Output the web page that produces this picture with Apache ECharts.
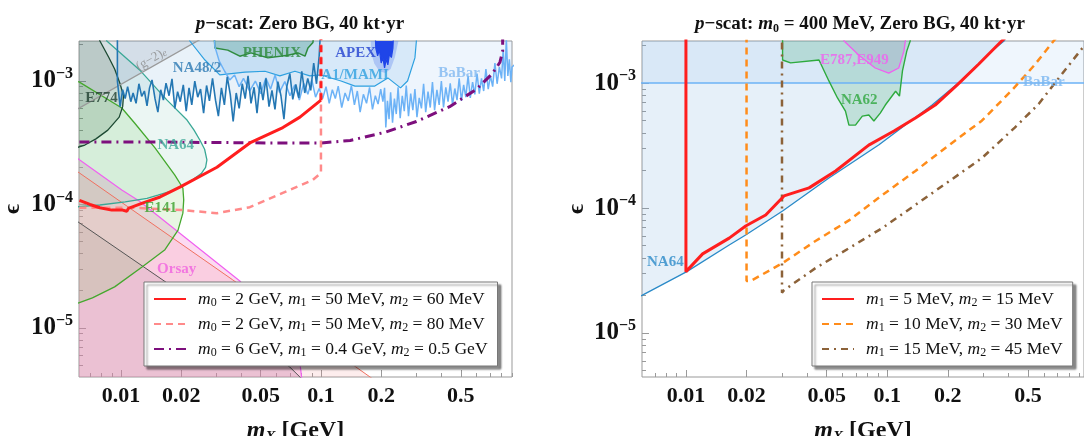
<!DOCTYPE html>
<html><head><meta charset="utf-8">
<script src="https://cdn.jsdelivr.net/npm/echarts/dist/echarts.min.js"></script>
<style>html,body{margin:0;padding:0;background:#fff}#c{width:1084px;height:436px}</style>
</head><body><div id="c"></div>
<script>
// ---------- ticks ----------
const X_MAJOR = [0.01, 0.02, 0.05, 0.1, 0.2, 0.5];
const X_MAJOR_LABELS = ['0.01', '0.02', '0.05', '0.1', '0.2', '0.5'];
const X_MINOR = [0.007, 0.008, 0.009, 0.03, 0.04, 0.06, 0.07, 0.08, 0.09, 0.3, 0.4, 0.6, 0.7, 0.8, 0.9];
const Y_MAJOR = [1e-5, 1e-4, 1e-3];
const Y_MAJOR_EXP = ['−5', '−4', '−3'];
const Y_MINOR = [5e-6, 6e-6, 7e-6, 8e-6, 9e-6, 2e-5, 3e-5, 4e-5, 5e-5, 6e-5, 7e-5, 8e-5, 9e-5,
  2e-4, 3e-4, 4e-4, 5e-4, 6e-4, 7e-4, 8e-4, 9e-4, 2e-3];

// ---------- left panel: exclusion regions [m_X (GeV), epsilon] ----------
const L_G2 = [[0.004, 4.04e-4], [0.03, 2.58e-3], [0.004, 2.58e-3]];
const L_E774 = [[0.0074, 3e-3], [0.00785, 2.11e-3], [0.0087, 1.55e-3], [0.0093, 1.25e-3], [0.0099, 9.5e-4], [0.0103, 7.6e-4],
  [0.0102, 6.2e-4], [0.0098, 5.1e-4], [0.0086, 4.0e-4], [0.0075, 3.4e-4], [0.0066, 3.03e-4], [0.0055, 2.75e-4], [0.004, 2.5e-4], [0.004, 3e-3]];
const L_NA64 = [[0.0079, 3e-3], [0.0085, 2.11e-3], [0.0124, 1.23e-3], [0.017, 7.0e-4], [0.0214, 4.83e-4], [0.0232, 4.0e-4], [0.0248, 3.33e-4],
  [0.0262, 2.8e-4], [0.0269, 2.3e-4], [0.0265, 2.0e-4], [0.0252, 1.78e-4], [0.023, 1.6e-4], [0.0205, 1.42e-4], [0.018, 1.29e-4],
  [0.0153, 1.19e-4], [0.0135, 1.12e-4], [0.0105, 1.05e-4], [0.00785, 9.9e-5], [0.0062, 9.6e-5], [0.004, 9.2e-5], [0.004, 3e-3]];
const L_E141 = [[0.004, 1.25e-3], [0.0062, 9.8e-4], [0.0101, 6.05e-4], [0.0117, 4.57e-4], [0.0148, 2.87e-4], [0.0186, 1.73e-4],
  [0.0204, 1.36e-4], [0.0206, 1.09e-4], [0.0204, 8.5e-5], [0.0193, 6.2e-5], [0.0166, 4.3e-5], [0.0127, 3.1e-5], [0.0093, 2.15e-5],
  [0.0072, 1.75e-5], [0.0062, 1.6e-5], [0.004, 1.35e-5]];
const L_ORSAY = [[0.004, 3.9e-4], [0.0062, 2.3e-4], [0.0101, 1.31e-4], [0.0124, 1.06e-4], [0.0393, 2.4e-5], [0.0785, 5.2e-6],
  [0.08, 4e-6], [0.081, 1e-6], [0.004, 1e-6]];
const L_SALMON = [[0.004, 2.9e-4], [0.0062, 1.8e-4], [0.0362, 2.45e-5], [0.176, 4e-6], [0.25, 2.7e-6], [0.004, 1e-6]];
const L_GRAY = [[0.004, 1.15e-4], [0.0062, 7.1e-5], [0.070, 4.8e-6], [0.0785, 4e-6], [0.1, 2.5e-6], [0.004, 1e-6]];
const L_NA48 = [[0.0096, 3e-3], [0.0096, 1.0e-3], [0.0099, 6.2e-4], [0.0102, 8.5e-4], [0.0105, 7.2e-4], [0.0108, 9.0e-4],
  [0.0112, 6.8e-4], [0.0115, 8.0e-4], [0.0119, 6.6e-4], [0.0123, 9.5e-4], [0.0127, 7.5e-4], [0.0131, 8.3e-4], [0.0135, 6.3e-4],
  [0.0139, 8.8e-4], [0.0143, 1.02e-3], [0.0148, 7.2e-4], [0.0153, 5.6e-4], [0.0158, 8.5e-4], [0.0163, 7.0e-4], [0.0168, 9.6e-4],
  [0.0174, 7.6e-4], [0.0180, 1.04e-3], [0.0186, 6.0e-4], [0.0192, 8.2e-4], [0.0198, 6.8e-4], [0.0205, 9.3e-4], [0.0212, 5.7e-4],
  [0.0219, 8.8e-4], [0.0226, 6.4e-4], [0.0234, 1.0e-3], [0.0242, 7.4e-4], [0.0250, 8.6e-4], [0.0259, 5.5e-4], [0.0268, 9.2e-4],
  [0.0277, 6.9e-4], [0.0287, 1.05e-3], [0.0297, 7.0e-4], [0.0307, 5.2e-4], [0.0318, 8.8e-4], [0.0329, 6.4e-4], [0.0340, 1.08e-3],
  [0.0352, 7.8e-4], [0.0364, 4.7e-4], [0.0377, 8.0e-4], [0.0390, 6.0e-4], [0.0404, 9.5e-4], [0.0418, 7.2e-4], [0.0432, 1.1e-3],
  [0.0447, 6.6e-4], [0.0463, 8.9e-4], [0.0479, 5.5e-4], [0.0496, 9.8e-4], [0.0513, 7.0e-4], [0.0531, 1.05e-3], [0.0550, 6.2e-4],
  [0.0569, 8.4e-4], [0.0589, 5.9e-4], [0.0609, 9.9e-4], [0.0631, 7.6e-4], [0.0653, 4.9e-4], [0.0675, 9.0e-4], [0.0699, 1.15e-3],
  [0.0723, 7.1e-4], [0.0749, 9.4e-4], [0.0775, 7.3e-4], [0.0802, 1.2e-3], [0.0830, 8.0e-4], [0.0859, 1.05e-3], [0.0889, 8.4e-4],
  [0.0920, 1.4e-3], [0.0950, 9.5e-4], [0.0980, 1.6e-3], [0.1000, 3e-3]];
const L_BABAR = [[0.029, 3e-3], [0.0295, 1.9e-3], [0.031, 1.45e-3], [0.033, 1.2e-3], [0.035, 1.02e-3], [0.037, 1.12e-3], [0.039, 9.0e-4],
  [0.041, 1.05e-3], [0.044, 8.3e-4], [0.047, 1.0e-3], [0.050, 7.9e-4], [0.053, 1.06e-3], [0.056, 8.6e-4], [0.059, 1.12e-3],
  [0.062, 8.1e-4], [0.066, 9.9e-4], [0.070, 7.6e-4], [0.074, 9.3e-4], [0.078, 7.0e-4], [0.082, 9.6e-4], [0.086, 7.8e-4],
  [0.090, 1.02e-3], [0.094, 7.4e-4], [0.098, 8.7e-4], [0.102, 7.2e-4], [0.106, 9.0e-4], [0.110, 6.6e-4], [0.114, 8.5e-4],
  [0.118, 7.2e-4], [0.122, 9.1e-4], [0.127, 6.1e-4], [0.132, 8.0e-4], [0.137, 6.9e-4], [0.142, 9.2e-4], [0.147, 6.4e-4],
  [0.152, 8.3e-4], [0.157, 5.6e-4], [0.163, 7.8e-4], [0.169, 6.6e-4], [0.175, 8.9e-4], [0.181, 5.9e-4], [0.187, 7.6e-4],
  [0.193, 6.5e-4], [0.199, 8.6e-4], [0.204, 6.8e-4], [0.208, 8.8e-4], [0.211, 4.2e-4], [0.215, 6.9e-4], [0.219, 4.9e-4],
  [0.223, 8.1e-4], [0.228, 4.6e-4], [0.233, 7.2e-4], [0.238, 5.4e-4], [0.243, 8.9e-4], [0.249, 5.0e-4], [0.255, 7.6e-4],
  [0.261, 5.7e-4], [0.267, 9.2e-4], [0.274, 5.2e-4], [0.281, 7.9e-4], [0.288, 5.8e-4], [0.295, 8.6e-4], [0.302, 5.1e-4],
  [0.310, 7.3e-4], [0.318, 6.0e-4], [0.326, 9.5e-4], [0.334, 5.6e-4], [0.343, 8.2e-4], [0.352, 6.1e-4], [0.361, 9.8e-4],
  [0.370, 5.8e-4], [0.380, 8.5e-4], [0.390, 6.4e-4], [0.400, 1.0e-3], [0.410, 6.1e-4], [0.421, 8.9e-4], [0.432, 6.8e-4],
  [0.443, 9.6e-4], [0.455, 6.4e-4], [0.467, 8.7e-4], [0.479, 7.0e-4], [0.491, 1.05e-3], [0.504, 6.9e-4], [0.517, 9.3e-4],
  [0.530, 7.4e-4], [0.544, 1.1e-3], [0.558, 7.3e-4], [0.573, 9.8e-4], [0.588, 7.8e-4], [0.603, 1.15e-3], [0.619, 7.9e-4],
  [0.635, 1.05e-3], [0.651, 8.3e-4], [0.668, 1.25e-3], [0.686, 8.6e-4], [0.704, 1.1e-3], [0.722, 9.0e-4], [0.741, 1.4e-3],
  [0.760, 9.5e-4], [0.780, 1.3e-3], [0.800, 1.05e-3], [0.815, 1.8e-3], [0.830, 1.0e-3], [0.845, 2.2e-3], [0.860, 1.1e-3],
  [0.875, 1.5e-3], [0.890, 9.8e-4], [0.902, 1.3e-3], [0.95, 1.4e-3], [0.95, 3e-3]];
const L_A1 = [[0.021, 3e-3], [0.0221, 2.11e-3], [0.0263, 1.48e-3], [0.0312, 1.12e-3], [0.0417, 1.18e-3], [0.0525, 1.2e-3],
  [0.0623, 1.1e-3], [0.0741, 1.2e-3], [0.088, 1.1e-3], [0.10, 1.12e-3], [0.126, 1.0e-3], [0.148, 9.1e-4], [0.186, 9.1e-4],
  [0.216, 1.06e-3], [0.25, 8.8e-4], [0.271, 1.0e-3], [0.295, 1.54e-3], [0.30, 2.11e-3], [0.305, 3e-3]];
const L_APEX_HALO = [[0.176, 3e-3], [0.178, 1.7e-3], [0.185, 1.38e-3], [0.196, 1.2e-3], [0.21, 1.16e-3], [0.223, 1.25e-3],
  [0.234, 1.55e-3], [0.244, 2.11e-3], [0.246, 3e-3]];
const L_APEX = [[0.186, 3e-3], [0.188, 1.85e-3], [0.192, 1.6e-3], [0.196, 1.78e-3], [0.2, 1.4e-3], [0.204, 1.55e-3],
  [0.208, 1.28e-3], [0.212, 1.5e-3], [0.216, 1.35e-3], [0.22, 1.65e-3], [0.225, 1.55e-3], [0.229, 1.85e-3], [0.232, 3e-3]];
const L_PHENIX = [[0.029, 3e-3], [0.0295, 1.85e-3], [0.0342, 1.78e-3], [0.0393, 1.59e-3], [0.0447, 1.69e-3], [0.0543, 1.54e-3],
  [0.0683, 1.62e-3], [0.0767, 1.69e-3], [0.0832, 1.59e-3], [0.0861, 1.85e-3], [0.0912, 2.05e-3], [0.093, 3e-3]];

// ---------- left panel: projected sensitivities ----------
const NAME_L1 = 'm0 = 2 GeV, m1 = 50 MeV, m2 = 60 MeV';
const NAME_L2 = 'm0 = 2 GeV, m1 = 50 MeV, m2 = 80 MeV';
const NAME_L3 = 'm0 = 6 GeV, m1 = 0.4 GeV, m2 = 0.5 GeV';
const L_RED = [[0.0062, 1.08e-4], [0.0070, 1.0e-4], [0.00785, 9.4e-5], [0.009, 9.0e-5], [0.0102, 9.0e-5], [0.0107, 8.8e-5],
  [0.0109, 9.3e-5], [0.0129, 1.03e-4], [0.0157, 1.15e-4], [0.0197, 1.38e-4], [0.0302, 2.0e-4], [0.0441, 3.15e-4],
  [0.0645, 4.2e-4], [0.0785, 5.1e-4], [0.1, 7.0e-4]];
const L_PINK = [[0.0062, 9.4e-5], [0.0115, 9.4e-5], [0.0204, 9.0e-5], [0.0302, 8.5e-5], [0.0441, 9.5e-5], [0.0645, 1.24e-4],
  [0.091, 1.58e-4], [0.1, 1.8e-4], [0.1, 3e-3]];
const L_PURPLE = [[0.0062, 3.2e-4], [0.017, 3.2e-4], [0.0536, 3.15e-4], [0.1, 3.15e-4], [0.14, 3.3e-4], [0.21, 3.85e-4],
  [0.3, 4.7e-4], [0.44, 6.2e-4], [0.6, 8.6e-4], [0.72, 1.15e-3], [0.785, 1.42e-3], [0.81, 1.75e-3], [0.81, 3e-3]];

// ---------- right panel ----------
const R_BABAR = [[0.004, 1e-3], [1.2, 1e-3], [1.2, 3e-3], [0.004, 3e-3]];
const R_NA64 = [[0.004, 1.5e-5], [0.00605, 2.0e-5], [0.0101, 3.1e-5], [0.0164, 5.06e-5], [0.0198, 6.08e-5], [0.0302, 9.46e-5],
  [0.0513, 1.74e-4], [0.0906, 3.19e-4], [0.167, 6.67e-4], [0.235, 1.06e-3], [0.33, 1.8e-3], [0.38, 2.17e-3], [0.45, 3e-3], [0.004, 3e-3]];
const R_NA62 = [[0.0302, 3e-3], [0.0302, 1.53e-3], [0.0331, 1.45e-3], [0.0458, 1.53e-3], [0.0513, 1.04e-3], [0.0566, 7.6e-4],
  [0.062, 5.97e-4], [0.0645, 4.61e-4], [0.0695, 4.61e-4], [0.0752, 5.44e-4], [0.081, 5.55e-4], [0.0858, 4.97e-4], [0.0923, 5.75e-4],
  [0.0978, 6.67e-4], [0.11, 8.6e-4], [0.115, 7.87e-4], [0.119, 1.25e-3], [0.125, 1.8e-3], [0.13, 2.17e-3], [0.131, 3e-3]];
const R_E787 = [[0.059, 3e-3], [0.061, 2.17e-3], [0.0723, 1.67e-3], [0.0871, 1.32e-3], [0.1017, 1.2e-3], [0.114, 1.32e-3],
  [0.121, 1.8e-3], [0.123, 2.17e-3], [0.124, 3e-3]];
const NAME_R1 = 'm1 = 5 MeV, m2 = 15 MeV';
const NAME_R2 = 'm1 = 10 MeV, m2 = 30 MeV';
const NAME_R3 = 'm1 = 15 MeV, m2 = 45 MeV';
const R_RED = [[0.01, 3e-3], [0.01, 3.1e-5], [0.0121, 4.3e-5], [0.0164, 5.75e-5], [0.0198, 7.18e-5], [0.0249, 8.79e-5],
  [0.0307, 1.25e-4], [0.0409, 1.45e-4], [0.0554, 1.98e-4], [0.0809, 3.19e-4], [0.108, 4.13e-4], [0.138, 5.25e-4],
  [0.173, 6.67e-4], [0.222, 9.64e-4], [0.285, 1.42e-3], [0.37, 2.17e-3], [0.42, 2.6e-3]];
const R_ORANGE = [[0.02, 3e-3], [0.02, 2.61e-5], [0.021, 2.61e-5], [0.0302, 3.63e-5], [0.044, 5.45e-5], [0.0648, 8.0e-5],
  [0.0945, 1.27e-4], [0.138, 1.98e-4], [0.203, 3.19e-4], [0.295, 5.0e-4], [0.42, 8.9e-4], [0.54, 1.4e-3], [0.67, 2.17e-3], [0.75, 2.7e-3]];
const R_BROWN = [[0.03, 3e-3], [0.03, 2.1e-5], [0.0307, 2.2e-5], [0.044, 3.31e-5], [0.0648, 4.79e-5], [0.0945, 6.92e-5],
  [0.138, 1.06e-4], [0.203, 1.64e-4], [0.295, 2.51e-4], [0.43, 4.4e-4], [0.565, 6.8e-4], [0.70, 1.06e-3], [0.93, 1.9e-3], [1.1, 2.6e-3]];

// ---------- annotations ----------
const L_TEXTS = [
  { text: '(g−2){e|e}', x: 0.0142, y: 1.5e-3, color: '#8a8a8a', rotate: 30, weight: 'normal', size: 13 },
  { text: 'NA48/2', x: 0.024, y: 1.27e-3, color: '#2a78b3' },
  { text: 'PHENIX', x: 0.0568, y: 1.69e-3, color: '#2e8b3e' },
  { text: 'APEX', x: 0.149, y: 1.69e-3, color: '#2040d0' },
  { text: 'A1/MAMI', x: 0.148, y: 1.12e-3, color: '#30a0e0' },
  { text: 'BaBar', x: 0.49, y: 1.16e-3, color: '#80b8f0' },
  { text: 'E774', x: 0.0080, y: 7.3e-4, color: '#1e3d2e' },
  { text: 'NA64', x: 0.0188, y: 3.03e-4, color: '#3aa896' },
  { text: 'E141', x: 0.0158, y: 9.4e-5, color: '#3aa02a' },
  { text: 'Orsay', x: 0.019, y: 3.0e-5, color: '#f060e0' }
];
const R_TEXTS = [
  { text: 'E787,E949', x: 0.0686, y: 1.53e-3, color: '#f060f0' },
  { text: 'NA62', x: 0.0726, y: 7.3e-4, color: '#2ea83e' },
  { text: 'BaBar', x: 0.60, y: 1.02e-3, color: '#7ab6f0' },
  { text: 'NA64', x: 0.0079, y: 3.7e-5, color: '#2a8ac8' }
];

// ---------- building ----------
const SERIF = "'Liberation Serif','DejaVu Serif',serif";
const L = Math.log10;
const lg = arr => arr.map(p => [L(p[0]), L(p[1])]);

function polySeries(pts, fill, xi, yi) {
  const lp = lg(pts);
  return {
    type: 'custom', xAxisIndex: xi, yAxisIndex: yi, clip: true, silent: true, z: 1, data: lp,
    renderItem: (params, api) => {
      if (params.dataIndex !== 0) return null;
      return { type: 'polygon', shape: { points: lp.map(p => api.coord(p)) }, style: { fill: fill } };
    }
  };
}
function lineSeries(pts, color, width, type, xi, yi, z, name) {
  const s = {
    type: 'line', xAxisIndex: xi, yAxisIndex: yi, data: lg(pts), showSymbol: false, symbol: 'none', clip: true,
    silent: true, z: z || 2, lineStyle: { color: color, width: width, type: type || 'solid', cap: 'butt' },
    itemStyle: { color: color }
  };
  if (name) s.name = name;
  return s;
}
const LABEL_RICH = { e: { fontStyle: 'italic', fontSize: 10, verticalAlign: 'bottom', lineHeight: 10, color: '#8a8a8a', fontFamily: SERIF } };
function labelSeries(items, xi, yi) {
  return {
    type: 'scatter', xAxisIndex: xi, yAxisIndex: yi, symbolSize: 1, silent: true, z: 6,
    itemStyle: { color: 'rgba(0,0,0,0)' },
    data: items.map(it => ({
      value: [L(it.x), L(it.y)], name: it.text,
      label: { show: true, position: 'inside', formatter: it.text, color: it.color, rotate: it.rotate || 0,
        fontFamily: SERIF, fontWeight: it.weight || 'bold', fontSize: it.size || 15, rich: LABEL_RICH }
    }))
  };
}
const xFmt = v => { const i = X_MAJOR.findIndex(t => Math.abs(L(t) - v) < 1e-6); return i < 0 ? '' : X_MAJOR_LABELS[i]; };
const yFmt = v => { const i = Y_MAJOR.findIndex(t => Math.abs(L(t) - v) < 1e-6); return i < 0 ? '' : '{b|10}{p|' + Y_MAJOR_EXP[i] + '}'; };
const TICK_COLOR = '#9a9a9a';
function xAxes(grid, min, max) {
  return [{
    type: 'value', gridIndex: grid, position: 'bottom', min: L(min), max: L(max),
    axisLine: { show: false }, splitLine: { show: false },
    axisTick: { show: true, inside: true, length: 7, customValues: X_MAJOR.map(L), lineStyle: { color: TICK_COLOR } },
    axisLabel: { customValues: X_MAJOR.map(L), formatter: xFmt, fontFamily: SERIF, fontWeight: 'bold', fontSize: 22, color: '#111', margin: 8 },
    name: '{i|m}{s|X}{b| [GeV]}', nameLocation: 'middle', nameGap: 40,
    nameTextStyle: { rich: {
      i: { fontFamily: SERIF, fontStyle: 'italic', fontWeight: 'bold', fontSize: 24, color: '#111', lineHeight: 28 },
      s: { fontFamily: SERIF, fontStyle: 'italic', fontWeight: 'bold', fontSize: 15, color: '#111', verticalAlign: 'bottom', lineHeight: 18 },
      b: { fontFamily: SERIF, fontWeight: 'bold', fontSize: 24, color: '#111', lineHeight: 28 } } }
  }, {
    type: 'value', gridIndex: grid, position: 'bottom', min: L(min), max: L(max),
    axisLine: { show: false }, splitLine: { show: false }, axisLabel: { show: false },
    axisTick: { show: true, inside: true, length: 4, customValues: X_MINOR.map(L), lineStyle: { color: TICK_COLOR } }
  }];
}
function yAxes(grid, min, max, gap) {
  return [{
    type: 'value', gridIndex: grid, position: 'left', min: L(min), max: L(max),
    axisLine: { show: false }, splitLine: { show: false },
    axisTick: { show: true, inside: true, length: 7, customValues: Y_MAJOR.map(L), lineStyle: { color: TICK_COLOR } },
    axisLabel: { customValues: Y_MAJOR.map(L), formatter: yFmt, margin: 6, rich: {
      b: { fontFamily: SERIF, fontWeight: 'bold', fontSize: 25, color: '#111', lineHeight: 30 },
      p: { fontFamily: SERIF, fontWeight: 'bold', fontSize: 16, color: '#111', verticalAlign: 'top', lineHeight: 16 } } },
    name: 'ϵ', nameLocation: 'middle', nameGap: gap, nameRotate: 90,
    nameTextStyle: { fontFamily: SERIF, fontWeight: 'bold', fontSize: 24, color: '#111' }
  }, {
    type: 'value', gridIndex: grid, position: 'left', min: L(min), max: L(max),
    axisLine: { show: false }, splitLine: { show: false }, axisLabel: { show: false },
    axisTick: { show: true, inside: true, length: 4, customValues: Y_MINOR.map(L), lineStyle: { color: TICK_COLOR } }
  }];
}
const richify = s => s.replace(/m(\d)/g, '{i|m}{s|$1}');
const LEGEND_RICH = {
  i: { fontFamily: SERIF, fontStyle: 'italic', fontSize: 17.5, color: '#111', lineHeight: 20 },
  s: { fontFamily: SERIF, fontSize: 12, color: '#111', verticalAlign: 'bottom', lineHeight: 13 }
};
function legendBox(names, left, top) {
  return {
    data: names, orient: 'vertical', left: left, top: top, itemWidth: 32, itemHeight: 12, itemGap: 5,
    padding: [7, 10, 7, 9], backgroundColor: '#fff', borderColor: '#777', borderWidth: 1,
    shadowColor: 'rgba(0,0,0,0.45)', shadowBlur: 2, shadowOffsetX: 3, shadowOffsetY: 3,
    selectedMode: false, formatter: richify,
    itemStyle: { color: 'rgba(0,0,0,0)', borderWidth: 0, opacity: 0 },
    textStyle: { fontFamily: SERIF, fontSize: 17.5, color: '#111', lineHeight: 20, padding: [0, 0, 0, 7], rich: LEGEND_RICH }
  };
}
const TITLE_RICH = {
  i: { fontFamily: SERIF, fontStyle: 'italic', fontWeight: 'bold', fontSize: 19, color: '#111', lineHeight: 22 },
  b: { fontFamily: SERIF, fontWeight: 'bold', fontSize: 19, color: '#111', lineHeight: 22 },
  s: { fontFamily: SERIF, fontWeight: 'bold', fontSize: 12, color: '#111', verticalAlign: 'bottom', lineHeight: 13 }
};

const series = [
  // left regions (fills)
  polySeries(L_ORSAY, 'rgba(245,150,215,0.35)', 0, 0),
  polySeries(L_SALMON, 'rgba(240,140,140,0.16)', 0, 0),
  polySeries(L_GRAY, 'rgba(90,70,80,0.09)', 0, 0),
  polySeries(L_E141, 'rgba(120,200,90,0.17)', 0, 0),
  polySeries(L_NA64, 'rgba(70,175,150,0.11)', 0, 0),
  polySeries(L_E774, 'rgba(40,90,60,0.17)', 0, 0),
  polySeries(L_G2, 'rgba(110,120,140,0.17)', 0, 0),
  polySeries(L_NA48, 'rgba(100,160,215,0.14)', 0, 0),
  polySeries(L_BABAR, 'rgba(125,180,240,0.13)', 0, 0),
  polySeries(L_A1, 'rgba(80,165,225,0.14)', 0, 0),
  polySeries(L_PHENIX, 'rgba(50,140,105,0.26)', 0, 0),
  polySeries(L_APEX_HALO, 'rgba(110,145,240,0.4)', 0, 0),
  polySeries(L_APEX, '#1f45e8', 0, 0),
  // left region boundaries
  lineSeries(L_ORSAY, '#f060f0', 1.2, 'solid', 0, 0),
  lineSeries(L_SALMON, '#f07060', 1, 'solid', 0, 0),
  lineSeries(L_GRAY, '#555555', 1, 'solid', 0, 0),
  lineSeries(L_E141, '#45a82e', 1.3, 'solid', 0, 0),
  lineSeries(L_NA64, '#3aa896', 1.3, 'solid', 0, 0),
  lineSeries(L_E774, '#1d4a33', 1.3, 'solid', 0, 0),
  lineSeries(L_G2, '#9a9a9a', 1.3, 'solid', 0, 0),
  lineSeries(L_A1, '#2da0e0', 1.2, 'solid', 0, 0),
  lineSeries(L_PHENIX, '#2e8b3e', 1.5, 'solid', 0, 0),
  lineSeries(L_BABAR, '#6cb2f6', 1.5, 'solid', 0, 0),
  lineSeries(L_NA48, '#2477b3', 1.6, 'solid', 0, 0),
  lineSeries(L_APEX, '#1f45e8', 1.2, 'solid', 0, 0),
  labelSeries(L_TEXTS, 0, 0),
  // left projections
  lineSeries(L_PURPLE, '#7d0f7d', 3, [10, 5, 2, 5], 0, 0, 4, NAME_L3),
  lineSeries(L_PINK, '#ff8a8a', 2.5, [7, 5], 0, 0, 4, NAME_L2),
  lineSeries([L_RED[L_RED.length - 1], [L_RED[L_RED.length - 1][0], 3e-3]], '#ff1e1e', 3, [7, 5], 0, 0, 4),
  lineSeries(L_RED, '#ff1e1e', 3, 'solid', 0, 0, 5, NAME_L1),

  // right regions
  polySeries(R_NA64, 'rgba(100,160,215,0.16)', 2, 2),
  polySeries(R_BABAR, 'rgba(120,180,240,0.12)', 2, 2),
  polySeries(R_NA62, 'rgba(60,170,110,0.22)', 2, 2),
  polySeries(R_E787, 'rgba(150,130,190,0.22)', 2, 2),
  lineSeries(R_NA64, '#2a8ac8', 1.3, 'solid', 2, 2),
  lineSeries(R_BABAR, '#6cb2f6', 1.5, 'solid', 2, 2),
  lineSeries(R_NA62, '#2eaa3e', 1.4, 'solid', 2, 2),
  lineSeries(R_E787, '#f060f0', 1.3, 'solid', 2, 2),
  labelSeries(R_TEXTS, 2, 2),
  lineSeries(R_BROWN, '#8c6239', 2.5, [7, 5, 2, 5], 2, 2, 4, NAME_R3),
  lineSeries(R_ORANGE, '#ff8c1a', 2.5, [7, 5], 2, 2, 4, NAME_R2),
  lineSeries(R_RED, '#ff1e1e', 3, 'solid', 2, 2, 5, NAME_R1)
];

const option = {
  animation: false,
  backgroundColor: '#fff',
  title: [
    { text: '{i|p}{b|−scat: Zero BG, 40 kt·yr}', left: 295, top: 8, textAlign: 'center', textStyle: { rich: TITLE_RICH } },
    { text: '{i|p}{b|−scat: }{i|m}{s|0}{b| = 400 MeV, Zero BG, 40 kt·yr}', left: 855, top: 8, textAlign: 'center', textStyle: { rich: TITLE_RICH } }
  ],
  grid: [
    { left: 79, top: 41, width: 433, height: 336, show: true, borderColor: '#999', borderWidth: 1, backgroundColor: 'transparent',
      containLabel: false, outerBoundsMode: 'none' },
    { left: 642, top: 41, width: 442, height: 336, show: true, borderColor: '#999', borderWidth: 1, backgroundColor: 'transparent',
      containLabel: false, outerBoundsMode: 'none' }
  ],
  xAxis: [...xAxes(0, 0.00617, 0.902), ...xAxes(1, 0.00605, 0.949)],
  yAxis: [...yAxes(0, 4.0e-6, 2.11e-3, 54), ...yAxes(1, 4.45e-6, 2.17e-3, 53)],
  legend: [legendBox([NAME_L1, NAME_L2, NAME_L3], 144, 282), legendBox([NAME_R1, NAME_R2, NAME_R3], 812, 282)],
  series: series
};
const chart = echarts.init(document.getElementById('c'), null, { renderer: 'canvas' });
chart.setOption(option);
</script></body></html>
